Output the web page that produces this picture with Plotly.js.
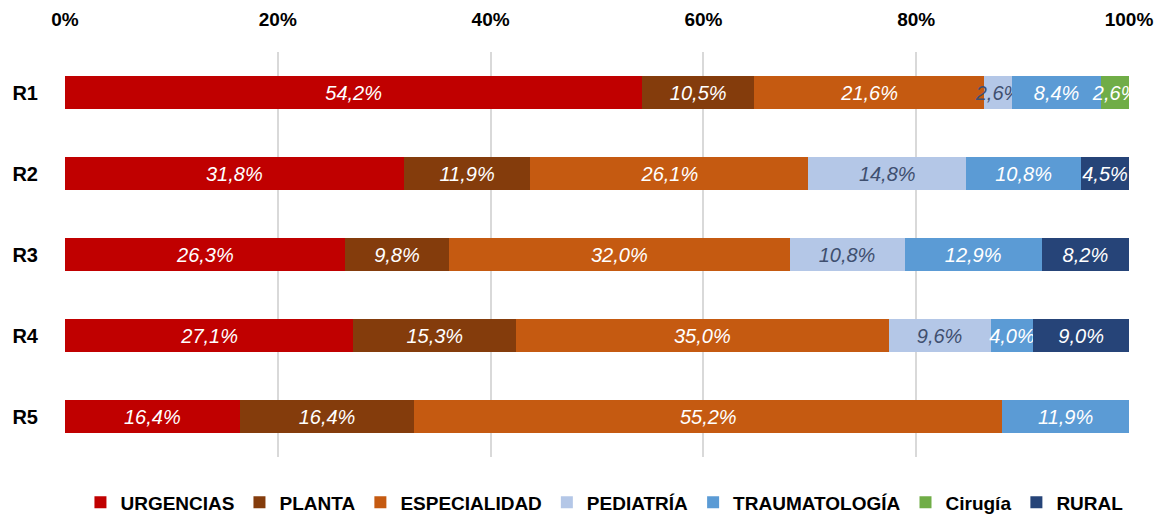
<!DOCTYPE html>
<html>
<head>
<meta charset="utf-8">
<script src="https://cdn.plot.ly/plotly-3.0.1.min.js"></script>
<style>html,body{margin:0;padding:0;background:#fff;}#chart{width:1158px;height:514px;}</style>
</head>
<body>
<div id="chart"></div>
<script>
const categories = ['R1', 'R2', 'R3', 'R4', 'R5'];
const seriesNames = ['URGENCIAS', 'PLANTA', 'ESPECIALIDAD', 'PEDIATRÍA', 'TRAUMATOLOGÍA', 'Cirugía', 'RURAL'];
const urgencias     = [54.2, 31.8, 26.3, 27.1, 16.4];
const planta        = [10.5, 11.9, 9.8, 15.3, 16.4];
const especialidad  = [21.6, 26.1, 32.0, 35.0, 55.2];
const pediatria     = [2.6, 14.8, 10.8, 9.6, 0];
const traumatologia = [8.4, 10.8, 12.9, 4.0, 11.9];
const cirugia       = [2.6, 0, 0, 0, 0];
const rural         = [0, 4.5, 8.2, 9.0, 0];
const xTickVals = [0, 20, 40, 60, 80, 100];
const xTickText = ['0%', '20%', '40%', '60%', '80%', '100%'];

const seriesValues = [urgencias, planta, especialidad, pediatria, traumatologia, cirugia, rural];
const colors = ['#C00000', '#843C0C', '#C55A11', '#B4C7E7', '#5B9BD5', '#70AD47', '#264478'];
const textColors = ['#FFFFFF', '#FFFFFF', '#FFFFFF', '#3F4F6F', '#FFFFFF', '#FFFFFF', '#FFFFFF'];
const fmt = v => v > 0 ? v.toFixed(1).replace('.', ',') + '%' : '';

const traces = seriesNames.map((name, i) => ({
  type: 'bar',
  orientation: 'h',
  name: name,
  y: categories,
  x: seriesValues[i],
  text: seriesValues[i].map(fmt),
  textposition: 'inside',
  insidetextanchor: 'middle',
  textangle: 0,
  constraintext: 'none',
  cliponaxis: false,
  textfont: {family: 'Liberation Sans, Arial, sans-serif', size: 20, style: 'italic', color: textColors[i]},
  marker: {color: colors[i], line: {width: 0}},
  hoverinfo: 'skip'
}));

const layout = {
  width: 1158,
  height: 514,
  barmode: 'stack',
  barnorm: 'percent',
  bargap: 0.59,
  margin: {l: 65, r: 29, t: 52, b: 57, autoexpand: false},
  paper_bgcolor: '#FFFFFF',
  plot_bgcolor: '#FFFFFF',
  showlegend: true,
  uniformtext: {mode: 'show', minsize: 20},
  font: {family: 'Liberation Sans, Arial, sans-serif', color: '#000000'},
  xaxis: {
    side: 'top',
    range: [0, 100],
    tickvals: xTickVals,
    ticktext: xTickText,
    showgrid: true,
    gridcolor: '#D9D9D9',
    gridwidth: 2,
    zeroline: false,
    showline: false,
    ticks: 'outside',
    ticklen: 17,
    tickcolor: 'rgba(0,0,0,0)',
    tickfont: {size: 19, weight: 'bold', color: '#000000'},
    fixedrange: true
  },
  yaxis: {
    autorange: 'reversed',
    type: 'category',
    showgrid: false,
    zeroline: false,
    showline: false,
    ticks: 'outside',
    ticklen: 22,
    tickcolor: 'rgba(0,0,0,0)',
    tickfont: {size: 20, weight: 'bold', color: '#000000'},
    fixedrange: true
  },
  legend: {
    orientation: 'h',
    x: 0.507,
    xanchor: 'center',
    y: -0.065,
    yanchor: 'top',
    traceorder: 'normal',
    font: {size: 19, weight: 'bold', color: '#000000'},
    itemwidth: 30,
    tracegroupgap: 0
  }
};

Plotly.newPlot('chart', traces, layout, {displayModeBar: false, staticPlot: true});
</script>
</body>
</html>
